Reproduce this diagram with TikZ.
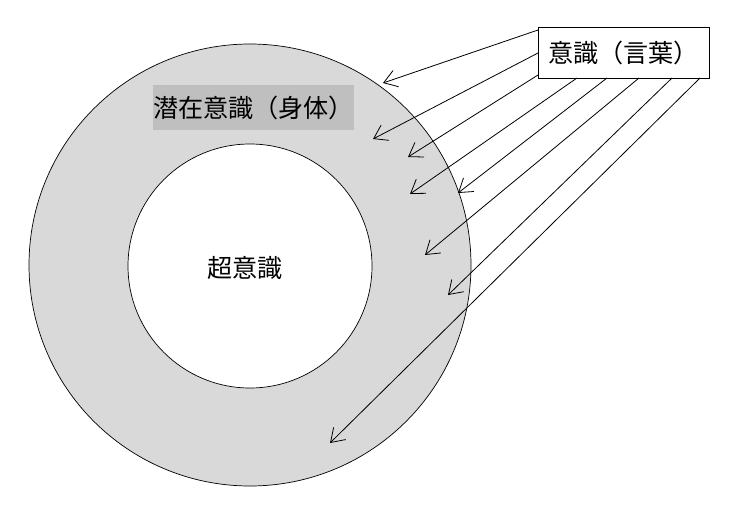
\documentclass[tikz,border=0pt]{standalone}
\usepackage{fontspec}
\newfontfamily\cjk{Noto Sans CJK JP}
\usetikzlibrary{arrows.meta}
\tikzstyle{ring} = [draw, circle, inner sep=0pt, line width=0.7pt]
\tikzstyle{tag} = [rectangle, font=\cjk\fontsize{25}{28}\selectfont]
\tikzstyle{ray} = [-{Straight Barb[length=4.5mm,width=6mm]}, line width=0.8pt]

\begin{document}
\begin{tikzpicture}[x=0.35mm,y=-0.35mm]
  \useasboundingbox (0,0) rectangle (732,507);

  \node [ring, fill=black!15, minimum size=442*0.35mm] (outer) at (250,265) {};
  \node [ring, fill=white, minimum size=244*0.35mm] (inner) at (250,266) {};
  \node [tag] (super) at (245,268) {超意識};
  \node [tag, fill=black!25, minimum width=193*0.35mm, minimum height=45*0.35mm, inner sep=0pt] (body) at (253.5,107.5) {潜在意識（身体）};
  \node [tag, draw, line width=0.8pt, fill=white, minimum width=171*0.35mm, minimum height=51*0.35mm, inner sep=0pt] (words) at (623.5,52.5) {意識（言葉）};

  % ray ends
  \foreach \n/\sx/\sy/\ex/\ey in {1/538/30/383/83, 2/538/53/373/139, 3/538/75/408/157,
      4/577/78/410/194, 5/607/78/458/193, 6/639/78/425/255, 7/672/78/448/295, 8/700/78/330/443} {
    \coordinate (s\n) at (\sx,\sy);
    \coordinate (e\n) at (\ex,\ey);
    \draw [ray] (s\n) -- (e\n);
  }
\end{tikzpicture}
\end{document}
